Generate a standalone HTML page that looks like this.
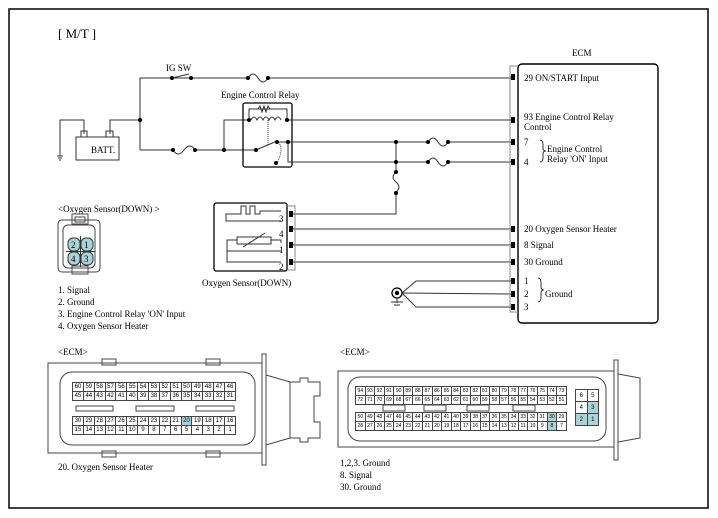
<!DOCTYPE html>
<html><head><meta charset="utf-8"><style>
body{margin:0;background:#fff;width:718px;height:518px;overflow:hidden;position:relative;font-family:"Liberation Serif",serif}
svg{position:absolute;left:0;top:0}
table{position:absolute;border-collapse:collapse;font-family:"Liberation Sans",sans-serif;font-size:6px;color:#000}
td{border:1px solid #444;padding:0;text-align:center;line-height:8px;height:8px}
td.h{background:#a8d4d8}
</style></head><body>
<svg width="718" height="518" font-family="Liberation Serif, serif" font-size="9">
<rect x="9" y="9" width="699" height="499" fill="none" stroke="#000" stroke-width="1.5"/>
<text x="58" y="38" font-size="13">[ M/T ]</text>
<g stroke="#333" fill="none" stroke-width="1">
<polyline points="140,150 140,78 172,78 191,78 248,78"/>
<line x1="172" y1="78" x2="189" y2="74"/>
<path d="M248,78 q5,-8 10,0 t10,0"/>
<line x1="268" y1="78" x2="513" y2="78"/>
<polyline points="84,134 84,120 60,120 60,156"/>
<line x1="57" y1="156" x2="63" y2="156"/><line x1="58" y1="158" x2="62" y2="158"/><line x1="59" y1="160" x2="61" y2="160"/>
<polyline points="110,134 110,120 140,120"/>
<rect x="76" y="137" width="43" height="23"/>
<rect x="81" y="131" width="6" height="6"/><rect x="106" y="131" width="7" height="6"/>
<polyline points="140,150 173,150"/>
<path d="M173,150 q5,8 11,0 t11,0"/>
<line x1="195" y1="150" x2="256" y2="150"/>
<polyline points="224,150 224,120 249,120"/>
<rect x="243" y="103" width="49" height="64" rx="2" stroke="#000" stroke-width="1.3"/>
<polyline points="249,120 249,109 287,109 287,120"/>
<path d="M258,109 l2,-3 2,6 2,-6 2,6 2,-6 2,3" />
<path d="M251,120 q3,-6 6,0 q3,-6 6,0 q3,-6 6,0 q3,-6 6,0 q3,-6 6,0"/>
<line x1="268" y1="120" x2="268" y2="146" stroke-dasharray="1,1"/>
<line x1="256" y1="150" x2="277" y2="141"/>
<path d="M277,141 q8,6 0,22" stroke-dasharray="1,1"/>
<line x1="287" y1="120" x2="513" y2="120"/>
<line x1="277" y1="142" x2="428" y2="142"/>
<polyline points="288,142 288,162 428,162"/>
<path d="M428,142 q5,-8 10,0 t10,0"/><line x1="448" y1="142" x2="513" y2="142"/>
<path d="M428,162 q5,-8 10,0 t10,0"/><line x1="448" y1="162" x2="513" y2="162"/>
<polyline points="396,142 396,172"/>
<path d="M396,172 q-6,5 0,10 t0,10"/>
<polyline points="396,192 396,214 290,214"/>
<line x1="290" y1="229" x2="513" y2="229"/>
<line x1="290" y1="245" x2="513" y2="245"/>
<line x1="290" y1="262" x2="513" y2="262"/>
<rect x="214" y="203" width="73" height="68" rx="2" stroke="#000" stroke-width="1.3"/>
<polyline points="287,206 295,206 295,270 287,270" stroke="#888"/>
<polyline points="281,221 226,221 226,214 241,214 241,206 246,206 246,214 250,214 250,206 255,206 255,214 260,214 260,211 281,211"/>
<polyline points="281,251 227,251 227,240 237,240"/>
<rect x="237" y="237" width="34" height="7"/>
<line x1="243" y1="247" x2="265" y2="233"/>
<polyline points="271,240 281,240 281,243"/>
<polyline points="227,251 227,262 281,262"/>
<circle cx="397" cy="293" r="5" stroke="#000" stroke-width="1.3"/>
<line x1="397" y1="298" x2="397" y2="303"/><line x1="391" y1="302" x2="403" y2="302"/><line x1="394" y1="305" x2="400" y2="305"/>
<polyline points="513,281 416,281 402,293 416,307 513,307"/>
<line x1="402" y1="293" x2="513" y2="294"/>
<rect x="518" y="64" width="140" height="259" rx="4" stroke="#000" stroke-width="1.4"/>
<polyline points="518,66 510,66 510,312 518,312" stroke="#888"/>
<path d="M540,140 q3,0 3,5 v3 q0,3 3,3 q-3,0 -3,3 v3 q0,5 -3,5"/>
<path d="M538,278 q3,0 3,5 v4 q0,3 3,3 q-3,0 -3,3 v4 q0,5 -3,5"/>
</g>
<g fill="#000">
<circle cx="140" cy="120" r="2"/><circle cx="172" cy="78" r="2"/><circle cx="191" cy="78" r="2"/>
<circle cx="248" cy="78" r="2"/><circle cx="268" cy="78" r="2"/>
<circle cx="173" cy="150" r="2"/><circle cx="195" cy="150" r="2"/><circle cx="224" cy="150" r="2"/>
<circle cx="249" cy="120" r="2"/><circle cx="287" cy="120" r="2"/><circle cx="256" cy="150" r="2"/>
<circle cx="277" cy="142" r="2"/><circle cx="288" cy="142" r="2"/><circle cx="276" cy="163" r="2"/>
<circle cx="396" cy="142" r="2"/><circle cx="396" cy="162" r="2"/><circle cx="396" cy="172" r="2"/><circle cx="396" cy="193" r="2"/>
<circle cx="428" cy="142" r="2"/><circle cx="448" cy="142" r="2"/><circle cx="428" cy="162" r="2"/><circle cx="448" cy="162" r="2"/>
<circle cx="397" cy="293" r="2.2"/>
<rect x="511" y="74" width="4" height="6"/><rect x="511" y="117" width="4" height="6"/><rect x="511" y="139" width="4" height="6"/><rect x="511" y="159" width="4" height="6"/>
<rect x="511" y="226" width="4" height="6"/><rect x="511" y="242" width="4" height="6"/><rect x="511" y="259" width="4" height="6"/>
<rect x="511" y="278" width="4" height="6"/><rect x="511" y="291" width="4" height="6"/><rect x="511" y="304" width="4" height="6"/>
<rect x="289" y="211" width="4" height="6"/><rect x="289" y="226" width="4" height="6"/><rect x="289" y="242" width="4" height="6"/><rect x="289" y="259" width="4" height="6"/>
</g>
<text x="166" y="71">IG SW</text>
<text x="221" y="98">Engine Control Relay</text>
<text x="91" y="153">BATT.</text>
<text x="572" y="56">ECM</text>
<text x="524" y="81">29  ON/START Input</text>
<text x="524" y="120">93 Engine Control Relay</text>
<text x="524" y="130">Control</text>
<text x="524" y="145">7</text><text x="524" y="165">4</text>
<text x="547" y="152">Engine Control</text>
<text x="547" y="162">Relay 'ON' Input</text>
<text x="524" y="232">20 Oxygen Sensor Heater</text>
<text x="524" y="248">8 Signal</text>
<text x="524" y="265">30 Ground</text>
<text x="524" y="284">1</text><text x="524" y="297">2</text><text x="524" y="310">3</text>
<text x="545" y="297">Ground</text>
<text x="279" y="222">3</text><text x="279" y="237">4</text><text x="279" y="253">1</text><text x="279" y="270">2</text>
<text x="202" y="286">Oxygen Sensor(DOWN)</text>
<text x="58" y="212">&lt;Oxygen Sensor(DOWN)    &gt;</text>
<g stroke="#444" fill="none">
<path d="M62,220 q-4,0 -4,5 v42 q0,5 4,5 h34 q4,0 4,-5 v-42 q0,-5 -4,-5 z"/>
<rect x="63" y="225" width="32" height="43" rx="5"/>
<rect x="72" y="214" width="16" height="10"/><rect x="75" y="217" width="10" height="5"/>
<rect x="72" y="266" width="16" height="8"/>
</g>
<g fill="#a8d4d8" stroke="#333">
<rect x="68" y="238" width="12" height="13" rx="5"/><rect x="81" y="238" width="12" height="13" rx="5"/>
<rect x="68" y="252" width="12" height="13" rx="5"/><rect x="81" y="252" width="12" height="13" rx="5"/>
</g>
<line x1="80.5" y1="236" x2="80.5" y2="267" stroke="#333"/>
<line x1="66" y1="251.5" x2="95" y2="251.5" stroke="#333"/>
<g font-size="9"><text x="71" y="248">2</text><text x="84" y="248">1</text><text x="71" y="262">4</text><text x="84" y="262">3</text></g>
<text x="58" y="293">1. Signal</text>
<text x="58" y="305">2. Ground</text>
<text x="58" y="317">3.  Engine Control Relay 'ON' Input</text>
<text x="58" y="329">4. Oxygen Sensor Heater</text>
<text x="58" y="355">&lt;ECM&gt;</text>
<g stroke="#444" fill="none">
<rect x="48" y="363" width="214" height="90"/>
<rect x="60" y="372" width="195" height="73" rx="12"/>
<rect x="102" y="359" width="14" height="6"/><rect x="206" y="359" width="14" height="6"/>
<rect x="102" y="451" width="14" height="6"/><rect x="206" y="451" width="14" height="6"/>
<rect x="262" y="354" width="4" height="111"/>
<polyline points="266,375 290,382 290,438 266,445"/>
<path d="M290,382 h10 v-4 h8 v4 h12 v14 h-6 v26 h6 v16 h-12 v4 h-8 v-4 h-10"/>
<rect x="76" y="406" width="37" height="5"/><rect x="136" y="406" width="38" height="5"/><rect x="196" y="406" width="38" height="5"/>
</g>
<text x="58" y="470">20. Oxygen Sensor Heater</text>
<text x="340" y="355">&lt;ECM&gt;</text>
<g stroke="#444" fill="none">
<rect x="338" y="371" width="276" height="76"/>
<rect x="348" y="377" width="258" height="64" rx="12"/>
<rect x="614" y="360" width="4" height="100"/>
<polyline points="618,374 640,378 640,438 618,442"/>
<rect x="383" y="405" width="22" height="6"/><rect x="424" y="405" width="22" height="6"/><rect x="467" y="405" width="22" height="6"/><rect x="513" y="405" width="22" height="6"/>
</g>
<text x="340" y="466">1,2,3. Ground</text>
<text x="340" y="478">8. Signal</text>
<text x="340" y="490">30. Ground</text>
</svg>
<table style="left:72px;top:382px;width:164px">
<tr><td>60</td><td>59</td><td>58</td><td>57</td><td>56</td><td>55</td><td>54</td><td>53</td><td>52</td><td>51</td><td>50</td><td>49</td><td>48</td><td>47</td><td>46</td></tr>
<tr><td>45</td><td>44</td><td>43</td><td>42</td><td>41</td><td>40</td><td>39</td><td>38</td><td>37</td><td>36</td><td>35</td><td>34</td><td>33</td><td>32</td><td>31</td></tr>
</table>
<table style="left:72px;top:416px;width:164px">
<tr><td>30</td><td>29</td><td>28</td><td>27</td><td>26</td><td>25</td><td>24</td><td>23</td><td>22</td><td>21</td><td class="h">20</td><td>19</td><td>18</td><td>17</td><td>16</td></tr>
<tr><td>15</td><td>14</td><td>13</td><td>12</td><td>11</td><td>10</td><td>9</td><td>8</td><td>7</td><td>6</td><td>5</td><td>4</td><td>3</td><td>2</td><td>1</td></tr>
</table>
<table style="left:355px;top:386px;width:212px;font-size:5px">
<tr><td>94</td><td>93</td><td>92</td><td>91</td><td>90</td><td>89</td><td>88</td><td>87</td><td>86</td><td>85</td><td>84</td><td>83</td><td>82</td><td>81</td><td>80</td><td>79</td><td>78</td><td>77</td><td>76</td><td>75</td><td>74</td><td>73</td></tr>
<tr><td>72</td><td>71</td><td>70</td><td>69</td><td>68</td><td>67</td><td>66</td><td>65</td><td>64</td><td>63</td><td>62</td><td>61</td><td>60</td><td>59</td><td>58</td><td>57</td><td>56</td><td>55</td><td>54</td><td>53</td><td>52</td><td>51</td></tr>
</table>
<table style="left:355px;top:412px;width:212px;font-size:5px">
<tr><td>50</td><td>49</td><td>48</td><td>47</td><td>46</td><td>45</td><td>44</td><td>43</td><td>42</td><td>41</td><td>40</td><td>39</td><td>38</td><td>37</td><td>36</td><td>35</td><td>34</td><td>33</td><td>32</td><td>31</td><td class="h">30</td><td>29</td></tr>
<tr><td>28</td><td>27</td><td>26</td><td>25</td><td>24</td><td>23</td><td>22</td><td>21</td><td>20</td><td>19</td><td>18</td><td>17</td><td>16</td><td>15</td><td>14</td><td>13</td><td>12</td><td>11</td><td>10</td><td>9</td><td class="h">8</td><td>7</td></tr>
</table>
<table style="left:575px;top:389px;width:24px">
<tr><td style="height:11px">6</td><td>5</td></tr>
<tr><td style="height:11px">4</td><td class="h">3</td></tr>
<tr><td style="height:11px" class="h">2</td><td class="h">1</td></tr>
</table>
</body></html>
